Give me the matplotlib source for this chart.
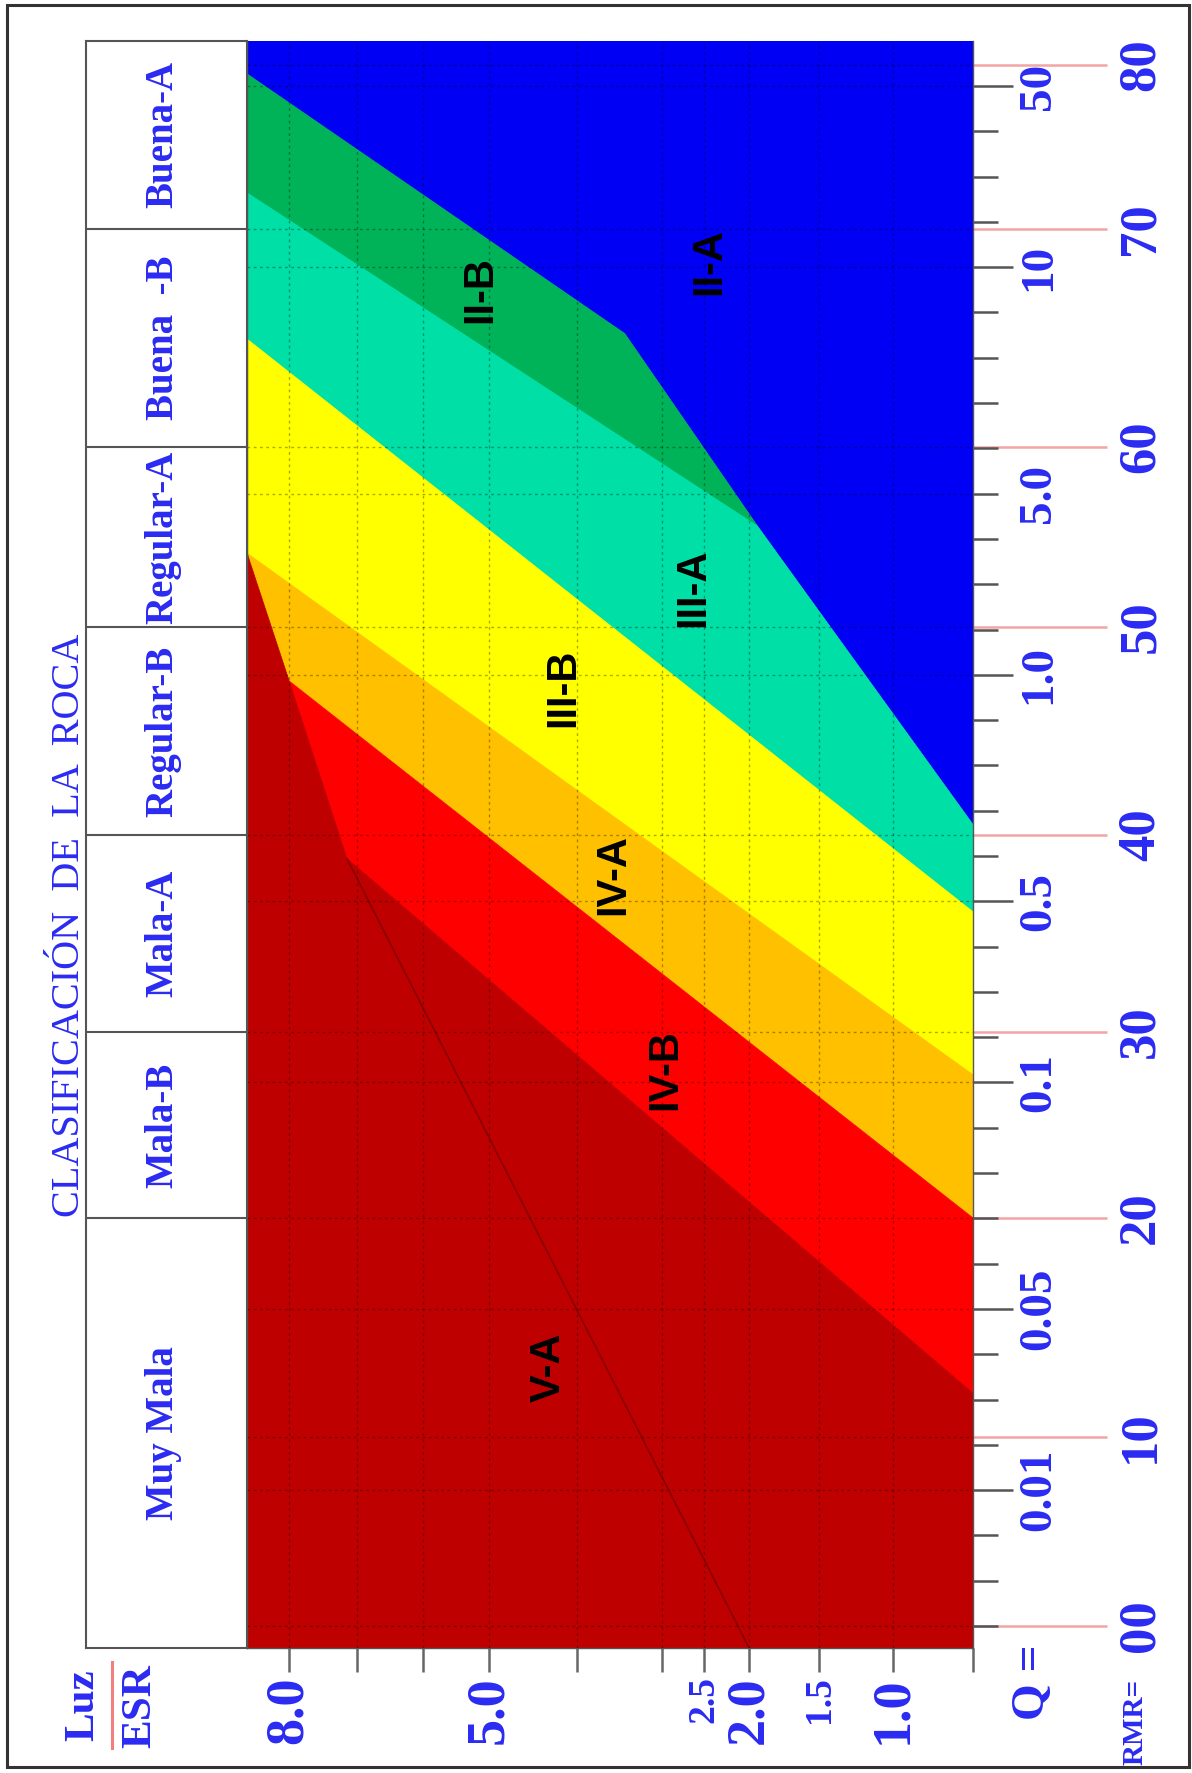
import numpy as np
import matplotlib
matplotlib.use("Agg")
import matplotlib.pyplot as plt
from matplotlib.patches import Polygon, Rectangle
from matplotlib.lines import Line2D

W, H = 1192, 1773

# ---------------- data ----------------
# Luz/ESR scale along the bottom
SPAN_TICKS = [8.0, 7.0, 6.0, 5.0, 4.0, 3.0, 2.5, 2.0, 1.5, 1.0]
SPAN_LABELS = ["8.0", "", "", "5.0", "", "", "2.5", "2.0", "1.5", "1.0"]
SPAN_SMALL = ["2.5", "1.5"]
SPAN_LIMITS = (8.62, 0.46)

# RMR scale (outer right)
RMR_TICKS = [0, 10, 20, 30, 40, 50, 60, 70, 80]
RMR_LABELS = ["00", "10", "20", "30", "40", "50", "60", "70", "80"]
RMR_LIMITS = (-1.16, 81.46)

# Q scale (inner right) on the 34 divisions of the printed scale
Q_LABELS = ["50", "10", "5.0", "1.0", "0.5", "0.1", "0.05", "0.01"]
Q_DIVISIONS = [0, 4, 9, 13, 18, 22, 27, 31]
Q_SHORT = ["5.0"]
Q_N_DIV = 34

# rock mass classes, bounded by RMR
CLASS_NAMES = ["Buena-A", "Buena  -B", "Regular-A", "Regular-B",
               "Mala-A", "Mala-B", "Muy Mala"]
CLASS_BOUNDS = [70, 60, 50, 40, 30, 20]

# support zone limits as (Luz/ESR, RMR) points
LIM_IIA = [(8.62, 79.45), (3.44, 65.2), (1.94, 55.6), (0.46, 40.5)]
LIM_IIB = [(8.62, 72.2), (1.94, 55.6)]
LIM_IIIA = [(8.62, 64.95), (0.46, 36.1)]
LIM_IIIB = [(8.62, 54.1), (0.46, 27.7)]
LIM_IVA = [(8.0, 47.4), (0.46, 20.0)]
LIM_IVB = [(7.15, 38.8), (0.46, 12.0)]
LINE_VA = [(7.15, 38.8), (2.0, -1.16)]

ZONE_NAMES = ["II-A", "II-B", "III-A", "III-B", "IV-A", "IV-B", "V-A"]
ZONE_COLORS = ["#0000f5", "#00b359", "#00dfa6", "#ffff00",
               "#ffc000", "#ff0000", "#bf0000"]
ZONE_LABEL_POS = [(2.44, 68.5), (5.14, 67.2), (2.63, 52.2), (4.16, 47.1),
                  (3.58, 38.0), (2.96, 28.0), (4.32, 13.2)]

# ---------------- printed scale geometry ----------------
# pixel positions of the scale knots inside the chart area
SPAN_KNOTS = [1.0, 1.5, 2.0, 2.5, 3.0, 4.0, 5.0, 6.0, 7.0, 8.0]
SPAN_POS = [646, 572, 502, 457, 415, 330, 242, 176, 110, 42]
RMR_POS = [22, 211, 430, 616, 813, 1021, 1201, 1419, 1583]


def _pw(v, xp, fp):
    v = np.asarray(v, dtype=float)
    out = np.interp(v, xp, fp)
    s0 = (fp[1] - fp[0]) / (xp[1] - xp[0])
    s1 = (fp[-1] - fp[-2]) / (xp[-1] - xp[-2])
    out = np.where(v < xp[0], fp[0] + (v - xp[0]) * s0, out)
    out = np.where(v > xp[-1], fp[-1] + (v - xp[-1]) * s1, out)
    return out


# the scale functions must increase with the value; the axis is reversed via xlim
NEG_SPAN_POS = [-p for p in SPAN_POS]


def span_fwd(v):
    return _pw(v, SPAN_KNOTS, NEG_SPAN_POS)


def span_inv(p):
    return _pw(p, NEG_SPAN_POS, SPAN_KNOTS)


def rmr_fwd(v):
    return _pw(v, RMR_TICKS, RMR_POS)


def rmr_inv(p):
    return _pw(p, RMR_POS, RMR_TICKS)


BLUE = "#2a2af2"
PINK = "#f3a4a4"
GRAY = "#555555"
SERIF = ["Liberation Serif", "DejaVu Serif"]
SANS = ["Liberation Sans", "DejaVu Sans"]

fig = plt.figure(figsize=(W / 100, H / 100), dpi=100)
fig.patch.set_facecolor("white")

PLOT_L, PLOT_R, PLOT_T, PLOT_B = 247, 973, 41, 1648
TAB_L = 86
box = [PLOT_L / W, (H - PLOT_B) / H, (PLOT_R - PLOT_L) / W, (PLOT_B - PLOT_T) / H]
ax = fig.add_axes(box)
ax.set_xscale("function", functions=(span_fwd, span_inv))
ax.set_yscale("function", functions=(rmr_fwd, rmr_inv))

# ---------------- zones ----------------
L, R = SPAN_LIMITS
B, T = RMR_LIMITS
zones = [
    [(L, T), (R, T)] + LIM_IIA[::-1],
    LIM_IIA[:3] + [LIM_IIB[0]],
    [LIM_IIB[0], LIM_IIB[1], LIM_IIA[3], LIM_IIIA[1], LIM_IIIA[0]],
    [LIM_IIIA[0], LIM_IIIA[1], LIM_IIIB[1], LIM_IIIB[0]],
    [LIM_IIIB[0], LIM_IIIB[1], LIM_IVA[1], LIM_IVA[0]],
    [LIM_IVA[0], LIM_IVA[1], LIM_IVB[1], LIM_IVB[0]],
    [LIM_IIIB[0], LIM_IVA[0], LIM_IVB[0], LIM_IVB[1], (R, B), (L, B)],
]
for verts, col in zip(zones, ZONE_COLORS):
    ax.add_patch(Polygon(verts, closed=True, facecolor=col, edgecolor=col,
                         linewidth=0.6, zorder=1))

xs, ys = zip(*LINE_VA)
ax.plot(xs, ys, color="#8a0000", lw=1.2, zorder=2)

# dotted grid
grid_kw = dict(color="black", alpha=0.33, lw=1.0, ls=(0, (2, 2.5)), zorder=3)
for s in SPAN_TICKS:
    ax.axvline(s, **grid_kw)
for r in RMR_TICKS:
    ax.axhline(r, **grid_kw)

for name, (sx, ry) in zip(ZONE_NAMES, ZONE_LABEL_POS):
    ax.text(sx, ry, name, rotation=90, ha="center", va="center",
            fontsize=30, fontweight="bold", family=SANS, color="black", zorder=5)

ax.set_xlim(*SPAN_LIMITS)
ax.set_ylim(*RMR_LIMITS)

# bottom Luz/ESR ticks
ax.set_xticks(SPAN_TICKS + [SPAN_LIMITS[1]], labels=SPAN_LABELS + [""])
ax.xaxis.set_minor_locator(matplotlib.ticker.NullLocator())
ax.tick_params(axis="x", direction="out", length=17, width=1.8, color="#666666",
               pad=3.5, labelsize=39, labelcolor=BLUE, labelrotation=90)
for lbl in ax.get_xticklabels():
    lbl.set_fontfamily(SERIF)
    lbl.set_fontweight("bold")
    lbl.set_va("top")
    lbl.set_ha("center")
    if lbl.get_text() in SPAN_SMALL:
        lbl.set_fontsize(27)

for side in ("top",):
    ax.spines[side].set_visible(False)
for side in ("left", "right", "bottom"):
    ax.spines[side].set_color(GRAY)
    ax.spines[side].set_linewidth(1.0)

# Q scale on its own divisions
axq = ax.twinx()
q_top_px = 86 - PLOT_T
q_bot_px = 1626 - PLOT_T
px_per_div = (q_bot_px - q_top_px) / Q_N_DIV
axq.set_ylim(Q_N_DIV + (PLOT_B - PLOT_T - q_bot_px) / px_per_div, -q_top_px / px_per_div)
axq.set_yticks(Q_DIVISIONS, labels=Q_LABELS)
axq.set_yticks(range(Q_N_DIV + 1), minor=True)
axq.tick_params(axis="y", which="major", direction="out", length=28.8, width=1.8,
                color=GRAY, pad=3.6, labelsize=34, labelcolor=BLUE, labelrotation=90)
axq.tick_params(axis="y", which="minor", direction="out", length=18, width=1.8,
                color=GRAY)
for tick, lab in zip(axq.yaxis.get_major_ticks(), Q_LABELS):
    if lab in Q_SHORT:
        tick.tick2line.set_markersize(18)
for lbl in axq.get_yticklabels():
    lbl.set_fontfamily(SERIF)
    lbl.set_fontweight("bold")
    lbl.set_va("center")
for d in Q_DIVISIONS:
    axq.axhline(d, **grid_kw)
for sp in axq.spines.values():
    sp.set_visible(False)

# right RMR ticks (pink) -- set after twinx, which moves them to the left
ax.yaxis.tick_right()
ax.set_yticks(RMR_TICKS, labels=RMR_LABELS)
ax.yaxis.set_minor_locator(matplotlib.ticker.NullLocator())
ax.tick_params(axis="y", direction="out", length=96.5, width=1.8, color=PINK,
               pad=7, labelsize=38, labelcolor=BLUE, labelrotation=90,
               left=False, labelleft=False, right=True, labelright=True)
for tick in ax.yaxis.get_major_ticks():
    tick.label2.set_fontfamily(SERIF)
    tick.label2.set_fontweight("bold")
    tick.label2.set_va("center")

# ---------------- classification column ----------------
axt = fig.add_axes([TAB_L / W, box[1], (PLOT_L - TAB_L) / W, box[3]], sharey=ax)
axt.set_xlim(0, 1)
axt.set_xticks([])
axt.tick_params(axis="y", which="both", left=False, right=False,
                labelleft=False, labelright=False)
for sp in axt.spines.values():
    sp.set_color(GRAY)
    sp.set_linewidth(1.5)
for b in CLASS_BOUNDS:
    axt.axhline(b, color=GRAY, lw=1.5)
edges = [RMR_LIMITS[1]] + CLASS_BOUNDS + [RMR_LIMITS[0]]
for name, top, bot in zip(CLASS_NAMES, edges[:-1], edges[1:]):
    yc = float(rmr_inv((rmr_fwd(top) + rmr_fwd(bot)) / 2))
    axt.text(0.48, yc, name, rotation=90, ha="center", va="center", color=BLUE,
             fontsize=28, fontweight="bold", family=SERIF)

# ---------------- titles and captions ----------------
def fx(px):
    return px / W


def fy(py):
    return 1 - py / H


fig.text(fx(70), fy(925), "CLASIFICACIÓN  DE  LA  ROCA", rotation=90,
         ha="center", va="center", fontsize=29, color=BLUE, family=SERIF)
fig.text(fx(83), fy(1705), "Luz", rotation=90, ha="center", va="center",
         fontsize=31, fontweight="bold", color=BLUE, family=SERIF)
fig.text(fx(140), fy(1706), "ESR", rotation=90, ha="center", va="center",
         fontsize=31, fontweight="bold", color=BLUE, family=SERIF)
fig.add_artist(Line2D([fx(112), fx(112)], [fy(1662), fy(1748)],
                      color="#f08080", lw=2.2))
fig.text(fx(1033), fy(1682), "Q =", rotation=90, ha="center", va="center",
         fontsize=34, fontweight="bold", color=BLUE, family=SERIF)
fig.text(fx(1135), fy(1722), "RMR=", rotation=90, ha="center", va="center",
         fontsize=21, fontweight="bold", color=BLUE, family=SERIF)

fig.add_artist(Rectangle((fx(7), fy(1767)), (1189 - 7) / W, (1767 - 5) / H,
                         transform=fig.transFigure, fill=False,
                         edgecolor="#333333", lw=2.2))

fig.savefig("out.png", dpi=100, facecolor="white")
